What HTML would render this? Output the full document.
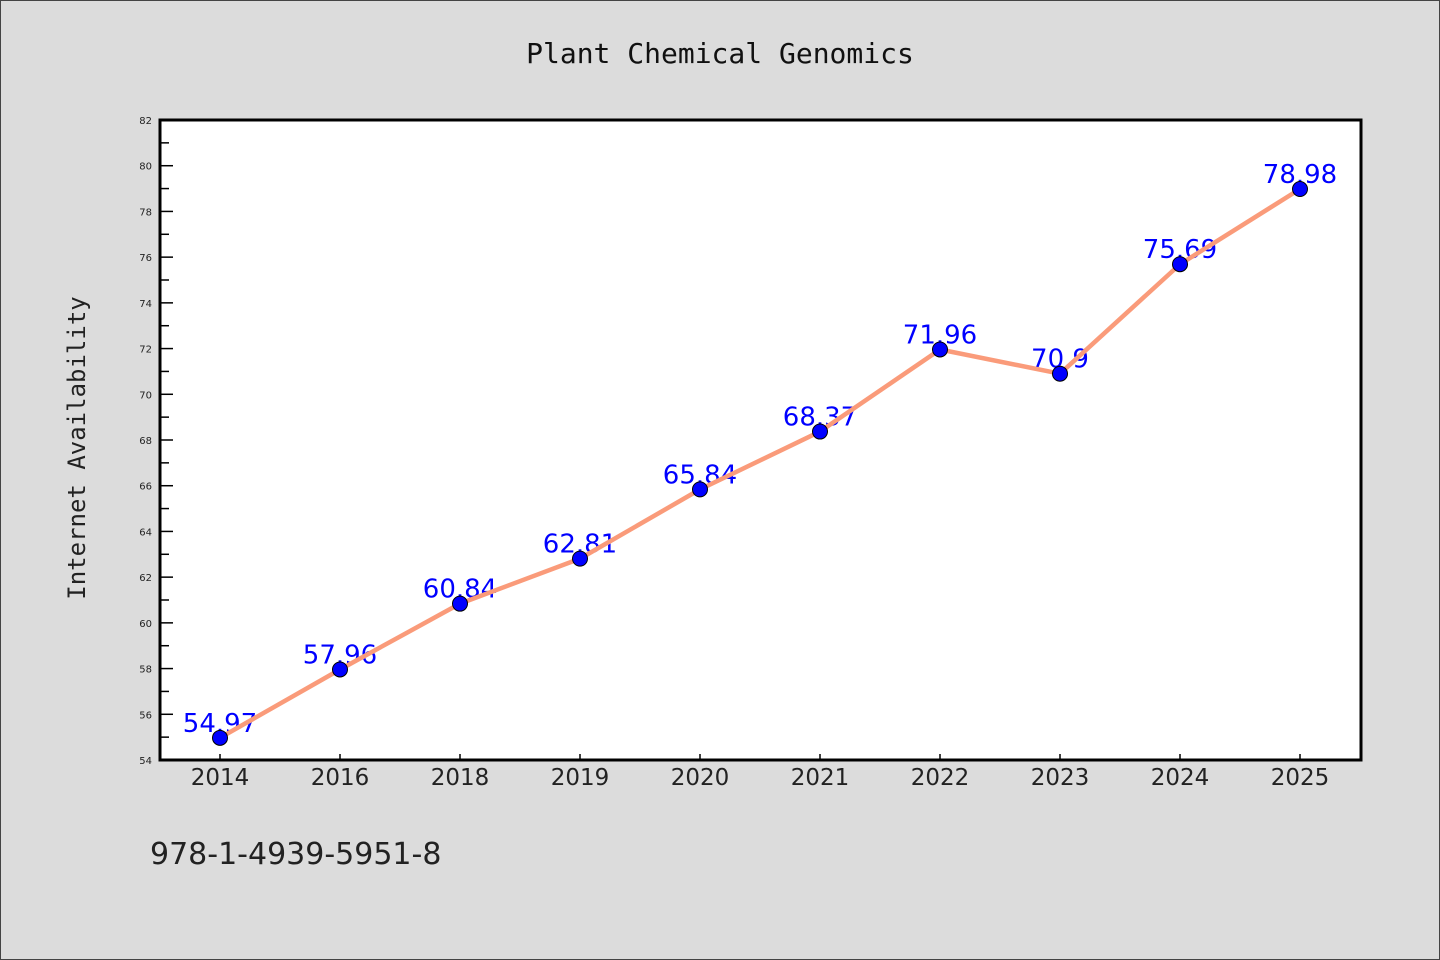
<!DOCTYPE html>
<html><head><meta charset="utf-8"><style>
html,body{margin:0;padding:0;background:#dcdcdc;}
svg{display:block;}
</style></head><body>
<svg id="chart" width="1440" height="960" xmlns="http://www.w3.org/2000/svg">
<rect x="0.5" y="0.5" width="1439" height="959" fill="#dcdcdc" stroke="#444"/>
<text x="720" y="63" text-anchor="middle" font-family="'DejaVu Sans Mono','Liberation Mono',monospace" font-size="28" fill="#111">Plant Chemical Genomics</text>
<text transform="translate(85,448) rotate(-90)" text-anchor="middle" font-family="'DejaVu Sans Mono','Liberation Mono',monospace" font-size="24" fill="#222">Internet Availability</text>
<text x="150" y="864" font-family="'DejaVu Sans','Liberation Sans',sans-serif" font-size="30" fill="#222">978-1-4939-5951-8</text>
<rect x="160" y="120" width="1201" height="640" fill="#fff"/>
<g id="ticks"></g>
<g id="labels"></g>
<g id="series"></g>
<rect x="160" y="120" width="1201" height="640" fill="none" stroke="#000" stroke-width="3"/>
</svg>
<script>
const categories = ["2014","2016","2018","2019","2020","2021","2022","2023","2024","2025"];
const values = [54.97,57.96,60.84,62.81,65.84,68.37,71.96,70.9,75.69,78.98];
const valueLabels = ["54.97","57.96","60.84","62.81","65.84","68.37","71.96","70.9","75.69","78.98"];
const yTicks = [54,56,58,60,62,64,66,68,70,72,74,76,78,80,82];
const yMin = 54, yMax = 82;
const L=160, R=1361, T=120, B=760;
const ns="http://www.w3.org/2000/svg";
const xPos = i => L + 60 + i*(R-L-1)/categories.length;
const yPos = v => B - (v-yMin)/(yMax-yMin)*(B-T);
function mk(tag, attrs, parent){const e=document.createElementNS(ns,tag);for(const k in attrs)e.setAttribute(k,attrs[k]);parent.appendChild(e);return e;}
const tk=document.getElementById('ticks'), lb=document.getElementById('labels'), sr=document.getElementById('series');
yTicks.forEach((t,i)=>{
  const y=yPos(t);
  const ln=mk('line',{x1:L,x2:L+13,y1:y,y2:y,stroke:'#000','stroke-width':1.5},tk);
  
  
  const tx=mk('text',{x:152,y:y+4,'text-anchor':'end','font-family':"'DejaVu Sans','Liberation Sans',sans-serif",'font-size':10,fill:'#222'},tk);
  tx.textContent=t;
  
  
  if(i<yTicks.length-1){
    const ym=yPos(t+1);
    const mn=mk('line',{x1:L,x2:L+9,y1:ym,y2:ym,stroke:'#000','stroke-width':1.5},tk);
    
    
  }
});
categories.forEach((c,i)=>{
  const x=xPos(i);
  const ln=mk('line',{x1:x,x2:x,y1:B,y2:B-6,stroke:'#000','stroke-width':1.5},tk);
  
  
  const tx=mk('text',{x:x,y:B+25,'text-anchor':'middle','font-family':"'DejaVu Sans','Liberation Sans',sans-serif",'font-size':23,fill:'#222'},tk);
  tx.textContent=c;
  
  
});
values.forEach((v,i)=>{
  const tx=mk('text',{x:xPos(i),y:yPos(v)-6,'text-anchor':'middle','font-family':"'DejaVu Sans','Liberation Sans',sans-serif",'font-size':26,fill:'#0000ff'},lb);
  tx.textContent=valueLabels[i];
  
  
});
const pl=mk('polyline',{points:values.map((v,i)=>xPos(i)+','+yPos(v)).join(' '),fill:'none',stroke:'#fa9b7a','stroke-width':4.5,'stroke-linejoin':'round'},sr);


values.forEach((v,i)=>{
  const c=mk('circle',{cx:xPos(i),cy:yPos(v),r:7.5,fill:'#0000ff',stroke:'#000','stroke-width':1},sr);
  
  
});
</script>
</body></html>
